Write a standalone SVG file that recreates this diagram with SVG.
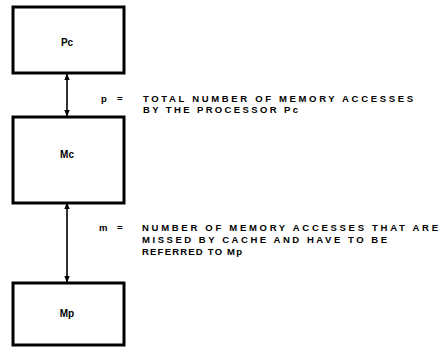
<svg xmlns="http://www.w3.org/2000/svg" width="442" height="351" viewBox="0 0 442 351">
<style>
.box{fill:#fff;stroke:#000;stroke-width:3}
.lbl{font-family:"Liberation Sans",Arial,sans-serif;font-weight:bold;font-size:10px;fill:#000;text-anchor:middle}
.t{font-family:"Liberation Sans",Arial,sans-serif;font-weight:bold;font-size:9.5px;fill:#000}
.c{stroke:#000;stroke-width:1.6;fill:none;marker-start:url(#ah);marker-end:url(#ah)}
</style>
<defs>
<marker id="ah" viewBox="0 0 10 10" refX="9" refY="5" markerWidth="7" markerHeight="7" orient="auto-start-reverse" markerUnits="userSpaceOnUse">
<path d="M0,1 L10,5 L0,9 Z" fill="#000"/>
</marker>
</defs>
<rect width="442" height="351" fill="#fff"/>
<g id="connectors">
<line class="c" x1="67" y1="74" x2="67" y2="116"/>
<line class="c" x1="67" y1="203" x2="67" y2="282"/>
</g>
<g id="Pc">
<rect class="box" x="13" y="7" width="111" height="66"/>
<text class="lbl" x="67" y="46">Pc</text>
</g>
<g id="Mc">
<rect class="box" x="13" y="117" width="111" height="86"/>
<text class="lbl" x="67" y="158">Mc</text>
</g>
<g id="Mp">
<rect class="box" x="13" y="283" width="111" height="62"/>
<text class="lbl" x="67" y="317">Mp</text>
</g>
<g id="notes">
<text class="t" x="101" y="102">p</text>
<text class="t" x="117" y="102">=</text>
<text class="t" x="143" y="102" textLength="270" lengthAdjust="spacing">TOTAL NUMBER OF MEMORY ACCESSES</text>
<text class="t" x="143" y="113" textLength="155" lengthAdjust="spacing">BY THE PROCESSOR  Pc</text>
<text class="t" x="99" y="231">m</text>
<text class="t" x="117" y="231">=</text>
<text class="t" x="142" y="231" textLength="296" lengthAdjust="spacing">NUMBER OF MEMORY ACCESSES THAT ARE</text>
<text class="t" x="142" y="243" textLength="245" lengthAdjust="spacing">MISSED BY CACHE AND HAVE TO BE</text>
<text class="t" x="142" y="255" textLength="100" lengthAdjust="spacing">REFERRED TO Mp</text>
</g>
</svg>
